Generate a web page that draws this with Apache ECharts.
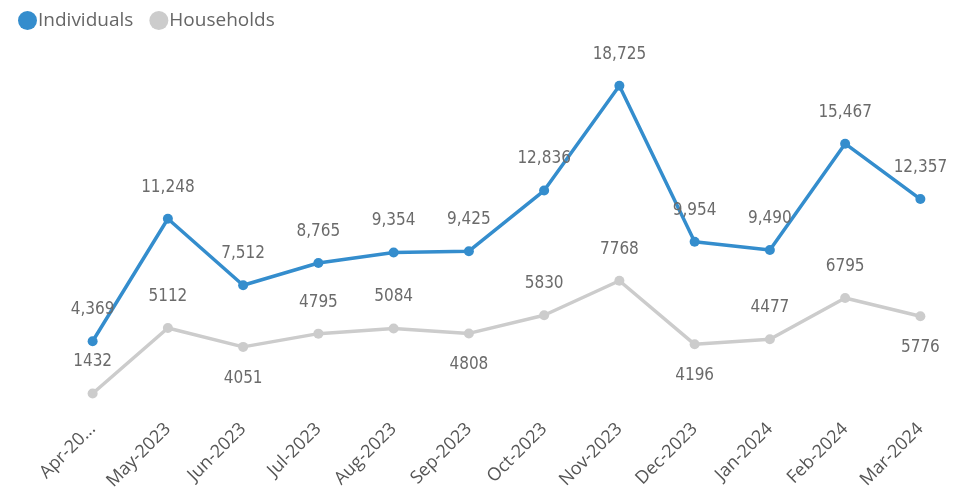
<!DOCTYPE html>
<html>
<head>
<meta charset="utf-8">
<script src="https://cdn.jsdelivr.net/npm/echarts@6/dist/echarts.min.js"></script>
<style>
  html, body { margin: 0; padding: 0; background: #fff; }
  #chart { width: 969px; height: 493px; }
</style>
</head>
<body>
<div id="chart"></div>
<script>
// Data
const months = ['Apr-2023', 'May-2023', 'Jun-2023', 'Jul-2023', 'Aug-2023', 'Sep-2023',
                'Oct-2023', 'Nov-2023', 'Dec-2023', 'Jan-2024', 'Feb-2024', 'Mar-2024'];
const individuals = [4369, 11248, 7512, 8765, 9354, 9425, 12836, 18725, 9954, 9490, 15467, 12357];
const households = [1432, 5112, 4051, 4795, 5084, 4808, 5830, 7768, 4196, 4477, 6795, 5776];

// which household labels sit under the point
const belowIdx = [2, 5, 8, 11];

const blue = '#348dcd';
const grey = '#cccccc';
const labelFont = {
    fontFamily: 'DejaVu Sans Condensed',
    fontSize: 17,
    color: '#6b6b6b'
};

const chart = echarts.init(document.getElementById('chart'));
chart.setOption({
    animation: false,
    legend: {
        left: 13,
        top: 6,
        icon: 'circle',
        itemWidth: 19,
        itemHeight: 19,
        itemGap: 16,
        textStyle: { fontFamily: 'Open Sans', fontSize: 19, color: '#666666', padding: [0, 0, 0, -4] },
        data: ['Individuals', 'Households']
    },
    grid: { left: 55, right: 11, top: 63, bottom: 74, containLabel: false },
    xAxis: {
        type: 'category',
        data: months,
        boundaryGap: true,
        axisLine: { show: false },
        axisTick: { show: false },
        axisLabel: {
            rotate: 45,
            margin: 7,
            interval: 0,
            fontFamily: 'Open Sans',
            fontSize: 18,
            color: '#555555',
            formatter: (v, i) => i === 0 ? 'Apr-20...' : v
        }
    },
    yAxis: {
        type: 'value',
        min: 0,
        max: 20000,
        show: false,
        splitLine: { show: false }
    },
    series: [
        {
            name: 'Households',
            type: 'line',
            data: households.map((v, i) => ({
                value: v,
                label: { position: belowIdx.includes(i) ? 'bottom' : 'top' }
            })),
            symbol: 'circle',
            symbolSize: 10,
            lineStyle: { color: grey, width: 3.5 },
            itemStyle: { color: grey },
            label: {
                show: true,
                distance: 18,
                ...labelFont,
                formatter: p => String(p.value)
            },
            z: 2
        },
        {
            name: 'Individuals',
            type: 'line',
            data: individuals,
            symbol: 'circle',
            symbolSize: 10,
            lineStyle: { color: blue, width: 3.5 },
            itemStyle: { color: blue },
            label: {
                show: true,
                position: 'top',
                distance: 18,
                ...labelFont,
                formatter: p => p.value.toLocaleString('en-US')
            },
            z: 3
        }
    ]
});
</script>
</body>
</html>
